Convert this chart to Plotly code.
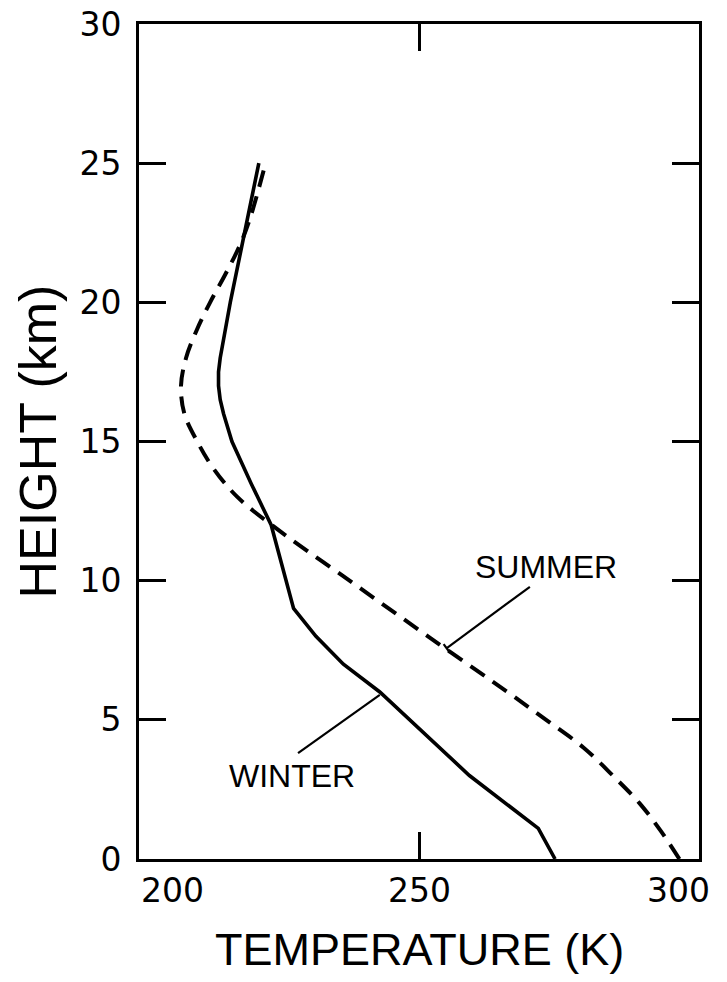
import plotly.graph_objects as go

# Temperature profiles (K) against height (km)
winter_height = [0, 1.1, 3, 6, 7, 8, 9, 12, 13.5, 15, 16, 16.5, 17, 17.5, 18,
                 20, 25]
winter_temp = [274.3, 271.3, 259.0, 243.0, 236.5, 231.6, 227.6, 223.6, 220.0,
               216.6, 215.1, 214.5, 214.2, 214.2, 214.5, 216.3, 221.4]

summer_height = [0, 1, 2, 3, 4, 5, 6, 8, 10, 12, 13, 14, 15, 16, 17, 18, 19,
                 20, 21, 22, 23, 25]
summer_temp = [296.5, 293.2, 289.4, 284.6, 279.4, 272.7, 265.8, 251.6, 237.6,
               223.7, 217.6, 213.4, 210.4, 208.1, 207.5, 208.4, 210.3, 212.7,
               215.4, 217.9, 219.8, 222.6]

temp_ticks = [200, 250, 300]
temp_tick_labels = ["200", "250", "300"]
height_ticks = [0, 5, 10, 15, 20, 25, 30]

INK = "black"
TICK_FONT = dict(family="DejaVu Sans", size=33, color=INK)
TITLE_FONT = "Liberation Sans"

fig = go.Figure()

fig.add_trace(go.Scatter(
    x=summer_temp, y=summer_height, mode="lines", name="SUMMER",
    line=dict(color=INK, width=4, dash="17px,10px", shape="spline",
              smoothing=1.0),
    showlegend=False, hoverinfo="skip"))

fig.add_trace(go.Scatter(
    x=winter_temp, y=winter_height, mode="lines", name="WINTER",
    line=dict(color=INK, width=3.6),
    showlegend=False, hoverinfo="skip"))

# Series labels with leader lines
summer_leader = dict(x0=269.8, y0=9.78, x1=254.9, y1=7.57)
winter_leader = dict(x0=228.4, y0=3.8, x1=243.0, y1=5.9)
for ld in (summer_leader, winter_leader):
    fig.add_shape(type="line", xref="x", yref="y", **ld,
                  line=dict(color=INK, width=2.2))
# short crossbar closing the summer leader
fig.add_shape(type="line", xref="x", yref="y",
              x0=254.4, y0=7.72, x1=255.5, y1=7.42,
              line=dict(color=INK, width=2.2))

fig.add_annotation(x=272.6, y=10.5, text="SUMMER", showarrow=False,
                   font=dict(family=TITLE_FONT, size=32, color=INK))
fig.add_annotation(x=227.4, y=3.0, text="WINTER", showarrow=False,
                   font=dict(family=TITLE_FONT, size=32, color=INK))

# Temperature tick labels (end labels sit inside the frame edges)
label_shift = [33, 0, -21]
for t, lab, dx in zip(temp_ticks, temp_tick_labels, label_shift):
    fig.add_annotation(x=t, y=0, xref="x", yref="y", text=lab,
                       showarrow=False, xshift=dx, yshift=-31,
                       yanchor="middle", font=TICK_FONT)

# Axis titles
fig.add_annotation(x=0.5, y=0, xref="paper", yref="paper", yshift=-90,
                   text="TEMPERATURE (K)", showarrow=False, yanchor="middle",
                   font=dict(family=TITLE_FONT, size=45, color=INK))
fig.add_annotation(x=0, y=0.5, xref="paper", yref="paper", xshift=-102,
                   text="HEIGHT (km)", showarrow=False, textangle=-90,
                   xanchor="center",
                   font=dict(family=TITLE_FONT, size=52, color=INK))

axis_common = dict(showline=True, linecolor=INK, linewidth=3, mirror="ticks",
                   ticks="inside", ticklen=27, tickwidth=3, tickcolor=INK,
                   showgrid=False, zeroline=False, automargin=False)

fig.update_xaxes(range=[200, 300], tickvals=temp_ticks, showticklabels=False,
                 **axis_common)
fig.update_yaxes(range=[0, 30], tickvals=height_ticks, tickfont=TICK_FONT,
                 ticklabelstandoff=8, **axis_common)

fig.update_layout(
    width=727, height=982,
    margin=dict(l=139, r=28, t=24, b=123),
    paper_bgcolor="white", plot_bgcolor="white",
)

fig.write_html("out.html")
